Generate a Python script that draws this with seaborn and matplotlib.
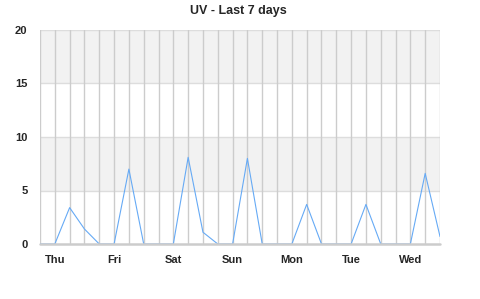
import matplotlib
matplotlib.use("Agg")
import matplotlib.pyplot as plt
import seaborn as sns
import pandas as pd

days = ["Thu", "Fri", "Sat", "Sun", "Mon", "Tue", "Wed"]
day_positions = [1, 5, 9, 13, 17, 21, 25]
uv_values = [0, 0, 3.4, 1.4, 0, 0, 7.0, 0, 0, 0, 8.1, 1.1, 0, 0,
             8.0, 0, 0, 0, 3.7, 0, 0, 0, 3.7, 0, 0, 0, 6.6, 0.7]
y_ticks = [0, 5, 10, 15, 20]
title = "UV - Last 7 days"

df = pd.DataFrame({"step": list(range(len(uv_values))), "uv": uv_values})

sns.set_style("white")
plt.rcParams["font.family"] = ["Liberation Sans", "DejaVu Sans"]

fig = plt.figure(figsize=(4.8, 2.99), dpi=100)
ax = fig.add_axes([40 / 480, 1 - 244 / 299, 400 / 480, 214 / 299])

# alternating bands
for lo, hi in [(5, 10), (15, 20)]:
    ax.axhspan(lo, hi, color="#f2f2f2", zorder=0, lw=0)
for yv in y_ticks[1:]:
    ax.axhline(yv, color="#dddddd", lw=1, zorder=1)
for xv in range(len(uv_values)):
    ax.axvline(xv, color="#cccccc", lw=1, zorder=1)

sns.lineplot(data=df, x="step", y="uv", ax=ax, color="#66aaf5", lw=0.8, zorder=2)
ax.axhline(0, color="#cccccc", lw=1.8, zorder=3, clip_on=False)

ax.set_xlim(0, len(uv_values) - 1)
ax.set_ylim(0, 20)
ax.set_xticks(day_positions)
ax.set_xticklabels(days, fontsize=8, fontweight="bold")
ax.set_yticks(y_ticks)
ax.set_yticklabels([str(v) for v in y_ticks], fontsize=8, fontweight="bold")
ax.tick_params(axis="both", length=0)
ax.tick_params(axis="y", pad=9)
ax.tick_params(axis="x", pad=8)
ax.set_xlabel("")
ax.set_ylabel("")
for s in ax.spines.values():
    s.set_visible(False)

fig.text(0.497, 1 - 11 / 299, title, ha="center", va="center", fontsize=9, fontweight="bold")

fig.savefig("out.png", dpi=100)
